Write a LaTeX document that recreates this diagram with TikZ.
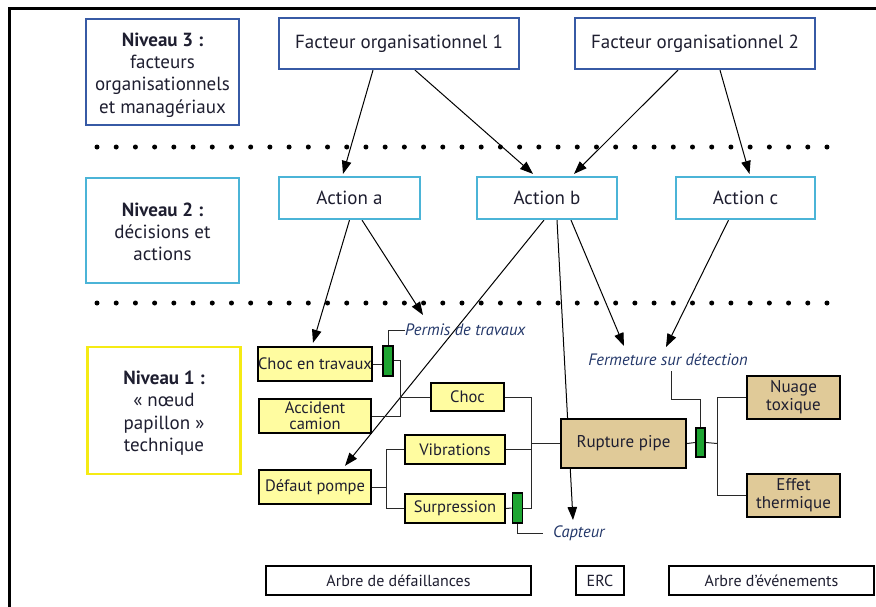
\documentclass[tikz,border=0pt]{standalone}
\usepackage{fontspec}
\setmainfont{PT Sans}
\usetikzlibrary{arrows.meta,calc}
\definecolor{txt}{RGB}{30,30,48}
\definecolor{ital}{RGB}{35,55,105}
\definecolor{dblue}{RGB}{55,90,165}
\definecolor{lblue}{RGB}{75,180,215}
\definecolor{ylw}{RGB}{245,235,20}
\definecolor{boxy}{RGB}{255,252,160}
\definecolor{tan}{RGB}{224,202,152}
\definecolor{barg}{RGB}{30,165,50}
\definecolor{linec}{RGB}{40,40,40}
\pgfdeclarelayer{bg}
\pgfsetlayers{bg,main}
\tikzset{
  lvl/.style={draw, line width=2.2pt, fill=white, inner sep=0pt},
  lvltext/.style={align=center, text=txt, font=\fontsize{19}{22.3}\selectfont, inner sep=0pt},
  fac/.style={draw=dblue, line width=2.2pt, fill=white, text=txt, font=\fontsize{19}{22}\selectfont, inner sep=0pt},
  act/.style={draw=lblue, line width=2.2pt, fill=white, text=txt, font=\fontsize{19}{22}\selectfont, inner sep=0pt},
  ybox/.style={draw=black, line width=2.4pt, fill=boxy, text=txt, align=center, font=\fontsize{16.5}{17}\selectfont, inner sep=0pt},
  tbox/.style={draw=black, line width=2.4pt, fill=tan, text=txt, align=center, font=\fontsize{17}{18}\selectfont, inner sep=0pt},
  barrier/.style={draw=black, line width=1.8pt, fill=barg, inner sep=0pt},
  wbox/.style={draw=black, line width=2pt, fill=white, text=txt, font=\fontsize{16}{18}\selectfont, inner sep=0pt, minimum height=29pt},
  ilabel/.style={text=ital, font=\itshape\fontsize{16.5}{18}\selectfont, inner sep=1pt},
  conn/.style={draw=linec, line width=1pt},
  arr/.style={draw=black, line width=1pt, -{Triangle[length=13pt,width=9.5pt]}},
  dot/.style={fill=black, draw=none}
}
\begin{document}
\begin{tikzpicture}[x=1pt,y=-1pt]
\useasboundingbox (0,0) rectangle (876,606);
% frame
\draw[line width=3pt, line cap=rect] (876,8.5) -- (9.5,8.5) -- (9.5,606);
% dotted separators
\foreach \k in {0,...,38} {
  \fill[dot] ({97+19.21*\k},147) circle (2.5pt);
  \fill[dot] ({97+19.21*\k},303) circle (2.5pt);
}
% level boxes
\node[lvl, draw=dblue, minimum width=153pt, minimum height=106pt] (n3) at (162.5,72) {};
\node[lvltext] (n3t) at (162.5,75) {\textbf{Niveau 3 :}\\facteurs\\organisationnels\\et managériaux};
\node[lvl, draw=lblue, minimum width=153pt, minimum height=105pt] (n2) at (162.5,230.5) {};
\node[lvltext] (n2t) at (162.5,232) {\textbf{Niveau 2 :}\\décisions et\\actions};
\node[lvl, draw=ylw, minimum width=153pt, minimum height=127pt] (n1) at (164,410.5) {};
\node[lvltext] (n1t) at (164,413) {\textbf{Niveau 1 :}\\« nœud\\papillon »\\technique};
% level 3 and 2 nodes
\node[fac, minimum width=240pt, minimum height=51pt] (fo1) at (399,43.5) {Facteur organisationnel 1};
\node[fac, minimum width=240pt, minimum height=51pt] (fo2) at (695,43.5) {Facteur organisationnel 2};
\node[act, minimum width=141pt, minimum height=42pt] (aa) at (349.5,198) {Action a};
\node[act, minimum width=140pt, minimum height=42pt] (ab) at (547,198) {Action b};
\node[act, minimum width=139pt, minimum height=42pt] (ac) at (745.5,198) {Action c};
% level 1 nodes
\node[ybox, minimum width=112pt, minimum height=34pt] (cet) at (315,364) {Choc en travaux};
\node[ybox, minimum width=112pt, minimum height=34pt] (acc) at (315,416) {Accident\\[-1pt]camion};
\node[ybox, minimum width=112pt, minimum height=34pt] (dp) at (315,487) {Défaut pompe};
\node[ybox, minimum width=73pt, minimum height=28pt] (choc) at (467.5,397) {Choc};
\node[ybox, minimum width=100pt, minimum height=29pt] (vib) at (455,449.5) {Vibrations};
\node[ybox, minimum width=100pt, minimum height=29pt] (sur) at (455,508.5) {Surpression};
\node[tbox, minimum width=125pt, minimum height=49pt] (rup) at (623.5,443.5) {Rupture pipe};
\node[tbox, minimum width=93pt, minimum height=43pt] (nua) at (793.5,397.5) {Nuage\\toxique};
\node[tbox, minimum width=93pt, minimum height=43pt] (eff) at (793.5,495.5) {Effet\\thermique};
% barriers
\node[barrier, minimum width=10pt, minimum height=30pt] (b1) at (388,361) {};
\node[barrier, minimum width=10pt, minimum height=30pt] (b2) at (517.5,508) {};
\node[barrier, minimum width=9pt, minimum height=29pt] (b3) at (700.5,442.5) {};
% labels
\node[ilabel, anchor=west] (permis) at (404,330) {Permis de travaux};
\node[ilabel, anchor=west] (capteur) at (552,533) {Capteur};
\node[ilabel] (ferm) at (668,360) {Fermeture sur détection};
% bottom boxes
\node[wbox, minimum width=265pt] (adf) at (398.5,580.5) {Arbre de défaillances};
\node[wbox, minimum width=48pt] (erc) at (600,580.5) {ERC};
\node[wbox, minimum width=205pt] (aev) at (771.5,580.5) {Arbre d’événements};
% coordinates
\coordinate (ptip) at (423,315);
\coordinate (ctip) at (573,520);
\coordinate (ftip1) at (624,346);
\coordinate (ftip2) at (666,347);
\coordinate (j1) at (400,397);
\coordinate (j2) at (531,443.5);
\coordinate (j3) at (386,487);
\coordinate (j4) at (717,443.5);
\begin{pgfonlayer}{bg}
% arrows
\draw[arr] ($(fo1.south)+(-26,0)$) -- ($(aa.north)+(-6.5,-2)$);
\draw[arr] ($(fo1.south)+(16,0)$) -- ($(ab.north)+(-14,-2)$);
\draw[arr] ($(fo2.south)+(-17,0)$) -- ($(ab.north)+(27,-2)$);
\draw[arr] ($(fo2.south)+(25,0)$) -- ($(ac.north)+(4,-2)$);
\draw[arr] ($(aa.south)+(0,0)$) -- ($(cet.north)+(-2,-3)$);
\draw[arr] ($(aa.south)+(12.5,0)$) -- (ptip);
\draw[arr] ($(ab.south)+(-3,0)$) -- ($(dp.north)+(30,-3)$);
\draw[arr] ($(ab.south)+(10,0)$) -- (ctip);
\draw[arr] ($(ab.south)+(24,0)$) -- (ftip1);
\draw[arr] ($(ac.south)+(-17,0)$) -- (ftip2);
% fault tree connections
\draw[conn] (cet.east) -- (cet.east -| b1.west);
\draw[conn] (b1.east |- 0,360) -| (j1 |- acc.east) -- (acc.east);
\draw[conn] (j1) -- (choc.west);
\draw[conn] (b1.north) |- ($(permis.west)+(1,0)$);
\draw[conn] (choc.east) -| (j2 |- b2.east) -- (b2.east);
\draw[conn] (vib.east) -- (vib.east -| j2);
\draw[conn] (sur.east) -- (b2.west);
\draw[conn] (j2) -- (rup.west);
\draw[conn] (dp.east) -- (j3);
\draw[conn] (vib.west) -| (j3 |- sur.west) -- (sur.west);
\draw[conn] (b2.south) |- ($(capteur.west)+(-9,0)$);
% event tree connections
\draw[conn] (rup.east) -- (b3.west);
\draw[conn] (b3.east) -- (j4);
\draw[conn] (nua.west) -| (j4 |- eff.west) -- (eff.west);
\draw[conn] ($(ferm.south)+(3,4)$) -- ++(0,28) -| (b3.north);
\end{pgfonlayer}
\end{tikzpicture}
\end{document}
